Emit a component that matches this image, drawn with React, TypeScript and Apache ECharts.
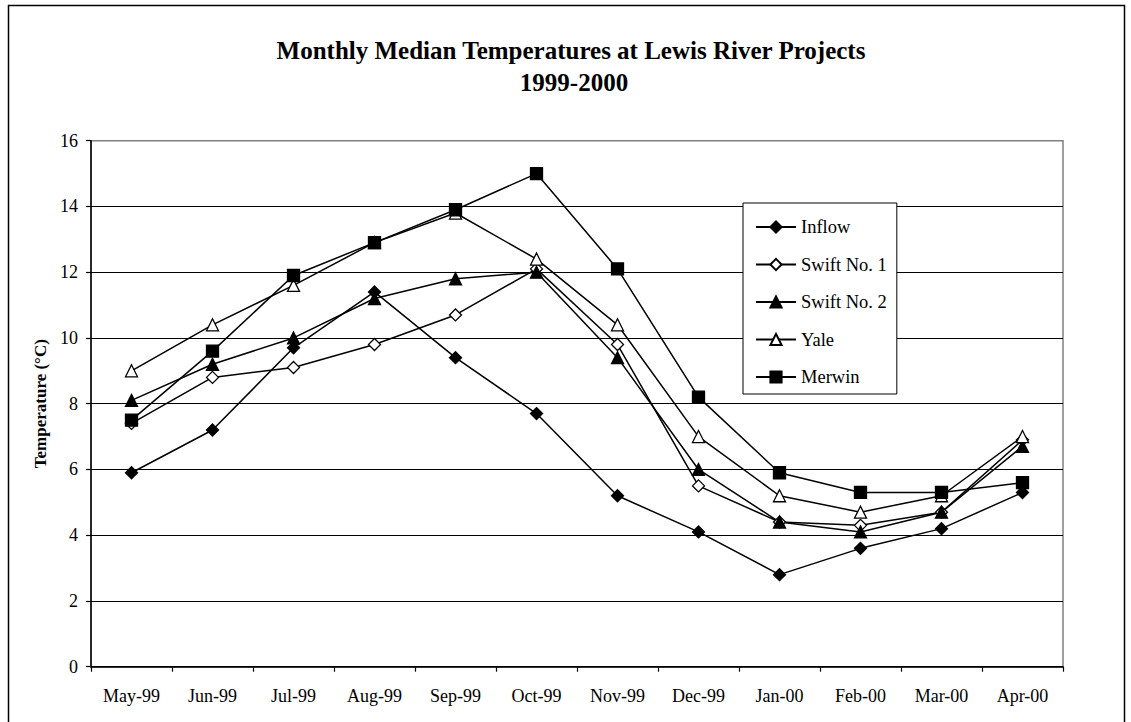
import React, { useEffect, useRef } from "react";
import * as echarts from "echarts";

const months = ["May-99", "Jun-99", "Jul-99", "Aug-99", "Sep-99", "Oct-99", "Nov-99", "Dec-99", "Jan-00", "Feb-00", "Mar-00", "Apr-00"];
const inflow = [5.9, 7.2, 9.7, 11.4, 9.4, 7.7, 5.2, 4.1, 2.8, 3.6, 4.2, 5.3];
const swift1 = [7.4, 8.8, 9.1, 9.8, 10.7, 12.1, 9.8, 5.5, 4.4, 4.3, 4.7, 6.9];
const swift2 = [8.1, 9.2, 10.0, 11.2, 11.8, 12.0, 9.4, 6.0, 4.4, 4.1, 4.7, 6.7];
const yale = [9.0, 10.4, 11.6, 12.9, 13.8, 12.4, 10.4, 7.0, 5.2, 4.7, 5.2, 7.0];
const merwin = [7.5, 9.6, 11.9, 12.9, 13.9, 15.0, 12.1, 8.2, 5.9, 5.3, 5.3, 5.6];

const titleLine1 = "Monthly Median Temperatures at Lewis River Projects";
const titleLine2 = "1999-2000";
const yAxisTitle = "Temperature (°C)";

const FONT = "'Liberation Serif', 'Times New Roman', serif";

function makeSeries(name: string, data: number[], symbol: string, filled: boolean, size: number) {
  return {
    name,
    type: "line",
    data,
    symbol,
    symbolSize: size,
    showSymbol: true,
    lineStyle: { color: "#000", width: 1.5 },
    itemStyle: { color: filled ? "#000" : "#fff", borderColor: "#000", borderWidth: 1.3 },
    emphasis: { disabled: true },
  };
}

export default function App() {
  const ref = useRef<HTMLDivElement>(null);
  useEffect(() => {
    if (!ref.current) return;
    const chart = echarts.init(ref.current, null, { renderer: "svg" });
    chart.setOption({
      animation: false,
      backgroundColor: "#fff",
      textStyle: { fontFamily: FONT },
      graphic: [
        {
          type: "rect",
          silent: true,
          z: -10,
          shape: { x: 8.5, y: 5.5, width: 1116, height: 740 },
          style: { fill: "none", stroke: "#000", lineWidth: 1.5 },
        },
        {
          type: "text",
          x: 571,
          y: 50,
          style: {
            text: titleLine1,
            textAlign: "center",
            textVerticalAlign: "middle",
            font: `bold 25px ${FONT}`,
            fill: "#000",
          },
        },
        {
          type: "text",
          x: 574,
          y: 82.6,
          style: {
            text: titleLine2,
            textAlign: "center",
            textVerticalAlign: "middle",
            font: `bold 25px ${FONT}`,
            fill: "#000",
          },
        },
      ],
      grid: {
        left: 91,
        right: 68,
        top: 140.7,
        bottom: 55.3,
        show: true,
        borderColor: "#808080",
        borderWidth: 1.5,
        backgroundColor: "transparent",
      },
      legend: {
        orient: "vertical",
        left: 743,
        top: 203,
        padding: [14, 10, 7, 12],
        itemGap: 17.5,
        itemWidth: 40,
        itemHeight: 14,
        backgroundColor: "#fff",
        borderColor: "#000",
        borderWidth: 1,
        textStyle: { fontFamily: FONT, fontSize: 18.5, lineHeight: 20, color: "#000" },
        data: ["Inflow", "Swift No. 1", "Swift No. 2", "Yale", "Merwin"],
      },
      xAxis: {
        type: "category",
        data: months,
        boundaryGap: true,
        axisLine: { lineStyle: { color: "#000", width: 1.5 } },
        axisTick: { show: true, interval: 0, length: 5, lineStyle: { color: "#000", width: 1.2 } },
        axisLabel: { interval: 0, margin: 20, fontSize: 18, color: "#000", fontFamily: FONT },
        splitLine: { show: false },
      },
      yAxis: {
        type: "value",
        min: 0,
        max: 16,
        interval: 2,
        name: yAxisTitle,
        nameLocation: "middle",
        nameGap: 41,
        nameTextStyle: { fontSize: 17, fontWeight: "bold", color: "#000", fontFamily: FONT },
        axisLine: { show: true, lineStyle: { color: "#000", width: 1.5 } },
        axisTick: { show: true, length: 5, lineStyle: { color: "#000", width: 1.2 } },
        axisLabel: { margin: 13, fontSize: 18, color: "#000", fontFamily: FONT },
        splitLine: {
          show: true,
          lineStyle: {
            color: ["#000", "#000", "#000", "#000", "#000", "#000", "#000", "#000", "#808080"],
            width: 1,
          },
        },
      },
      series: [
        makeSeries("Inflow", inflow, "diamond", true, 12),
        makeSeries("Swift No. 1", swift1, "diamond", false, 12),
        makeSeries("Swift No. 2", swift2, "triangle", true, 12),
        makeSeries("Yale", yale, "triangle", false, 12),
        makeSeries("Merwin", merwin, "rect", true, 12),
      ],
    });
    return () => chart.dispose();
  }, []);
  return (
    <div
      ref={ref}
      style={{ position: "fixed", left: 0, top: 0, width: 1131, height: 722, background: "#fff" }}
    />
  );
}
